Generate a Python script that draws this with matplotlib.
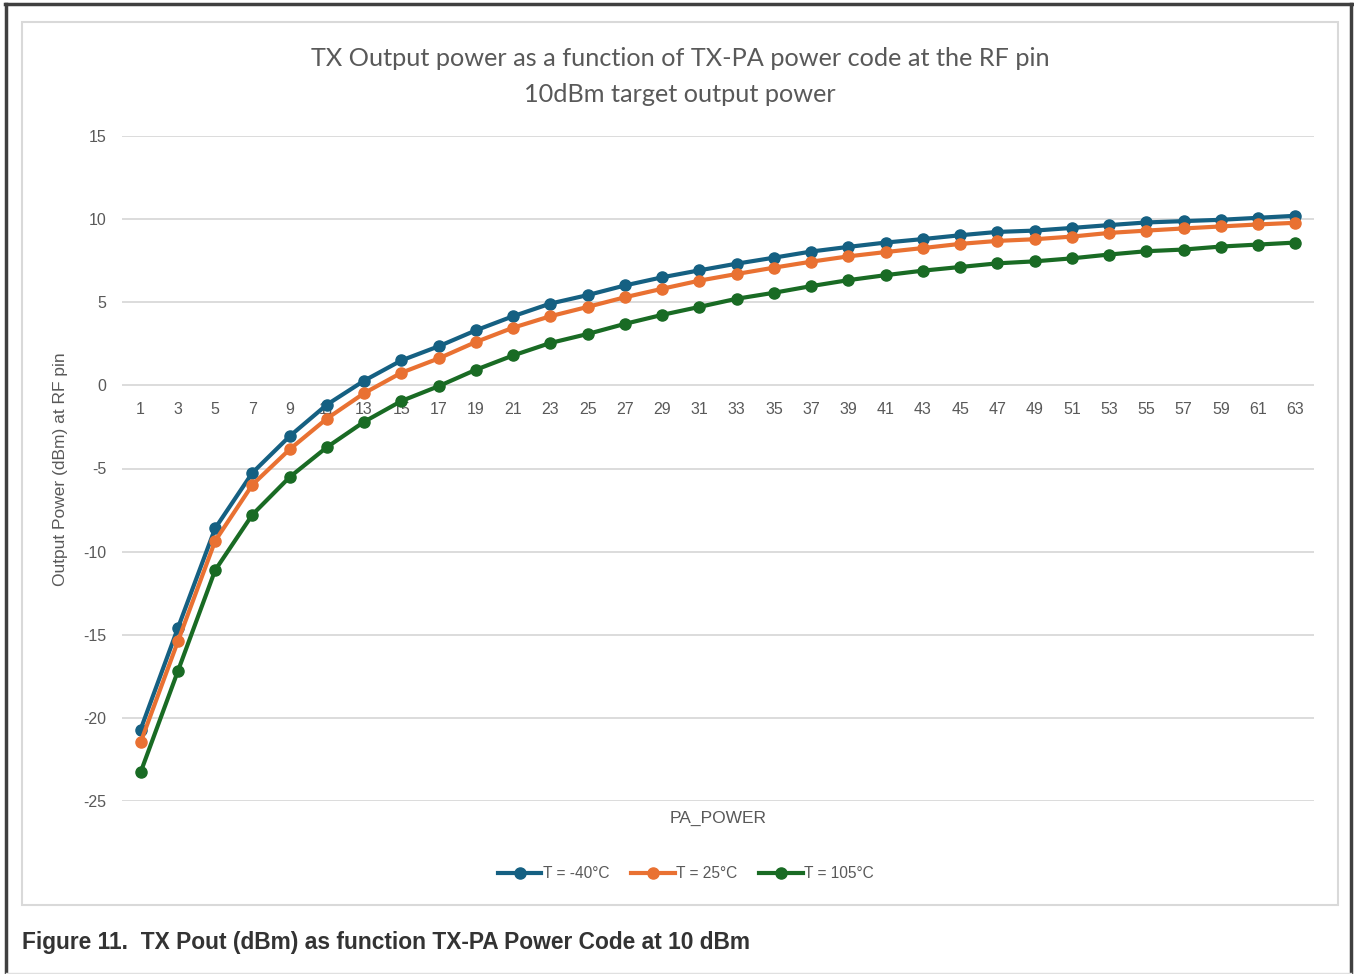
import matplotlib
matplotlib.use('Agg')
from matplotlib import pyplot as plt
from matplotlib.patches import Rectangle
from matplotlib.lines import Line2D

plt.rcParams['axes.unicode_minus'] = False

# PA power codes (odd codes only)
codes = list(range(1, 64, 2))

# output power in dBm
t_minus40 = [-20.7, -14.6, -8.6, -5.26, -3.06, -1.16, 0.28, 1.5, 2.35, 3.31, 4.16,
             4.92, 5.43, 6.01, 6.5, 6.92, 7.32, 7.68, 8.05, 8.33, 8.59, 8.8,
             9.03, 9.23, 9.31, 9.47, 9.64, 9.8, 9.88, 9.96, 10.08, 10.2]
t_25 = [-21.47, -15.4, -9.36, -5.98, -3.85, -2.0, -0.47, 0.76, 1.62, 2.61, 3.47,
        4.16, 4.72, 5.3, 5.81, 6.3, 6.7, 7.08, 7.44, 7.76, 8.02, 8.26,
        8.51, 8.69, 8.79, 8.95, 9.17, 9.31, 9.44, 9.56, 9.68, 9.78]
t_105 = [-23.27, -17.19, -11.12, -7.78, -5.52, -3.72, -2.19, -0.94, -0.05, 0.94, 1.8,
         2.55, 3.09, 3.7, 4.24, 4.72, 5.21, 5.57, 5.97, 6.33, 6.63, 6.9,
         7.12, 7.34, 7.46, 7.64, 7.87, 8.07, 8.17, 8.35, 8.47, 8.59]

series = [t_minus40, t_25, t_105]
labels = ['T = -40°C', 'T = 25°C', 'T = 105°C']
colors = ['#156082', '#E97132', '#196B24']

grey = '#595959'
font = 'Liberation Sans'
title_font = 'Lato'

W, H = 1354, 974
fig = plt.figure(figsize=(W / 100, H / 100), dpi=100)

# outer frame and chart box
fig.add_artist(Line2D([5 / W, 1352 / W], [1 - 4 / H, 1 - 4 / H], color='#404040', lw=2.5))
fig.add_artist(Line2D([6 / W, 6 / W], [0, 1 - 4 / H], color='#404040', lw=2.5))
fig.add_artist(Line2D([1351 / W, 1351 / W], [0, 1 - 4 / H], color='#404040', lw=2.5))
fig.add_artist(Line2D([6 / W, 1351 / W], [1 / H, 1 / H], color='#E0E0E0', lw=1))
fig.add_artist(Rectangle((22 / W, 1 - 905 / H), (1338 - 22) / W, (905 - 22) / H,
                         fill=False, ec='#D9D9D9', lw=1.5))

ax = fig.add_axes([122 / W, 1 - 801 / H, (1314 - 122) / W, (801 - 136) / H])

for vals, lab, col in zip(series, labels, colors):
    ax.plot(codes, vals, color=col, lw=3, marker='o', markersize=8, label=lab)

ax.set_xlim(0, 64)
ax.set_ylim(-25, 15)
ax.set_yticks(range(-25, 16, 5))
ax.set_xticks(codes)
ax.grid(axis='y', color='#D9D9D9', lw=1.3)
ax.set_axisbelow(True)
for s in ax.spines.values():
    s.set_visible(False)
ax.spines['bottom'].set_position(('data', 0))
ax.tick_params(axis='both', length=0, labelsize=11.5, labelcolor=grey)
ax.tick_params(axis='y', pad=11)
ax.tick_params(axis='x', pad=12)
for lbl in ax.get_xticklabels() + ax.get_yticklabels():
    lbl.set_fontfamily(font)

fig.text(61 / W, 1 - 469 / H, 'Output Power (dBm) at RF pin', rotation=90, ha='center',
         va='center', fontsize=12.5, color=grey, family=font)
fig.text(718 / W, 1 - 818 / H, 'PA_POWER', ha='center', va='center', fontsize=12.5,
         color=grey, family=font)

fig.text(680 / W, 1 - 58 / H, 'TX Output power as a function of TX-PA power code at the RF pin',
         ha='center', va='center', fontsize=18.2, color=grey, family=title_font)
fig.text(680 / W, 1 - 94 / H, '10dBm target output power',
         ha='center', va='center', fontsize=18.2, color=grey, family=title_font)

leg = fig.legend(loc='center', bbox_to_anchor=(686 / W, 1 - 874 / H), ncol=3, frameon=False,
                 handlelength=2.8, handletextpad=0.1, columnspacing=1.4,
                 prop={'family': font, 'size': 11.2})
for t in leg.get_texts():
    t.set_color(grey)

fig.text(22 / W, 1 - 942 / H, 'Figure 11.  TX Pout (dBm) as function TX-PA Power Code at 10 dBm',
         ha='left', va='center', fontsize=16.4, fontweight='bold', color='#333333',
         family='Liberation Sans')

fig.savefig('out.png', dpi=100)
